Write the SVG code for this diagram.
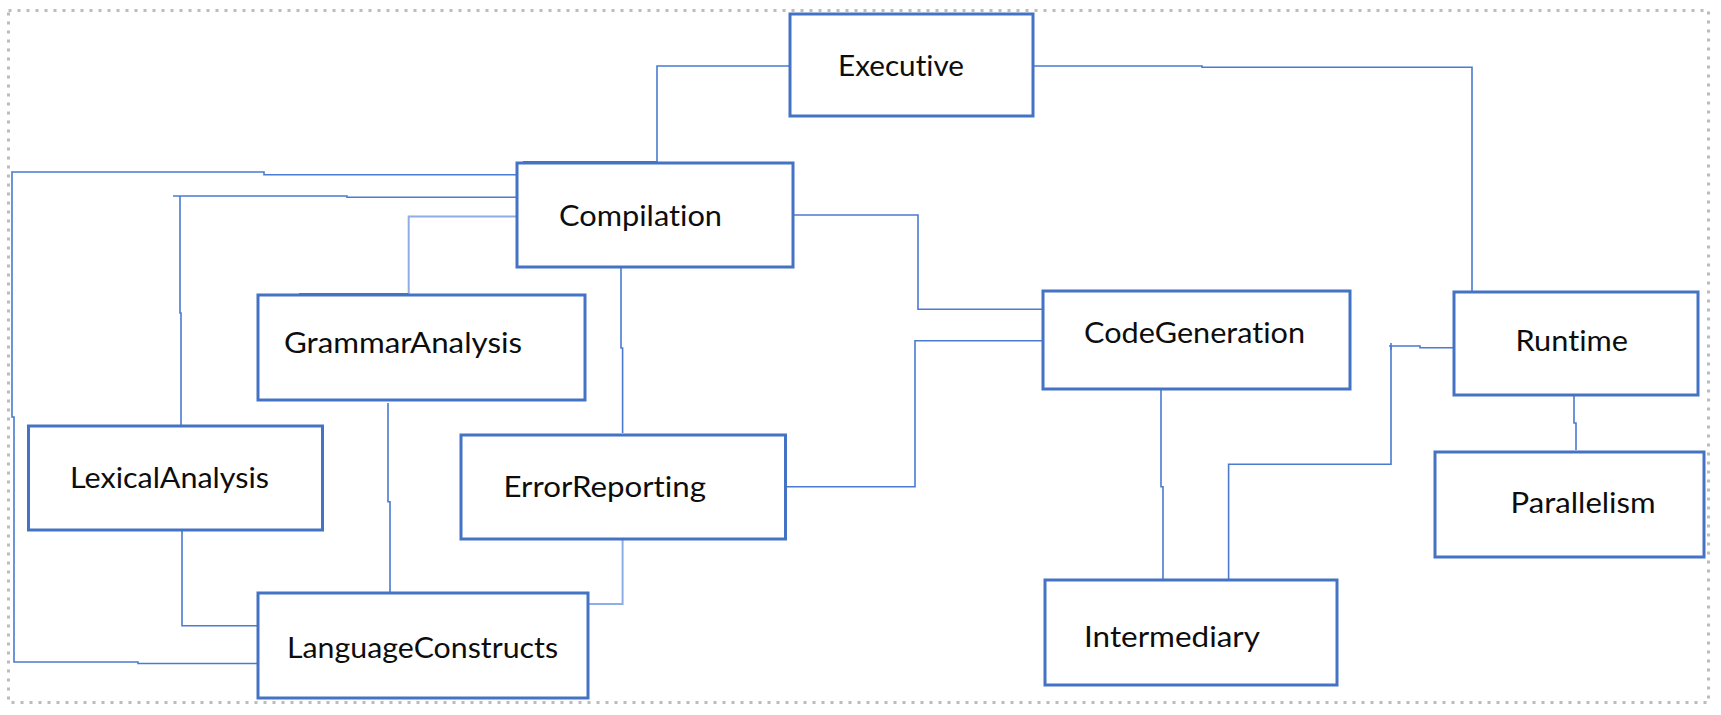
<svg xmlns="http://www.w3.org/2000/svg" width="1721" height="715" viewBox="0 0 1721 715">
  <style>
    .frame { fill: none; stroke: #bcbcbc; stroke-width: 3; stroke-dasharray: 3 6; }
    .box { fill: #ffffff; stroke: #4472C4; stroke-width: 3; }
    .lbl { font-family: Lato, "Open Sans", "Liberation Sans", sans-serif; font-size: 28.5px; fill: #0d0d0d; font-variant-ligatures: none; font-feature-settings: "liga" 0, "clig" 0; }
    .conn { fill: none; stroke: #4a7bd0; stroke-width: 1.6; }
    .connL { fill: none; stroke: #8eaee6; stroke-width: 2; }
    .thick { fill: none; stroke: #4472C4; stroke-width: 4; }
  </style>
  <rect width="1721" height="715" fill="#ffffff"/>
  <rect class="frame" x="8.5" y="10.5" width="1700" height="692"/>

  <g id="connectors">
    <!-- Executive - Compilation -->
    <polyline class="conn" points="790,66 657,66 657,162"/>
    <line class="thick" x1="523" y1="163" x2="657" y2="163"/>
    <!-- Executive - Runtime -->
    <polyline class="conn" points="1033,66 1202,66 1202,67.3 1472,67.3 1472,292"/>
    <!-- Compilation - LanguageConstructs (outer) -->
    <polyline class="conn" points="517,174.7 264,174.7 264,172 12,172 12,417 14,417 14,662 138,662 138,663.5 258,663.5"/>
    <!-- Compilation - LexicalAnalysis -->
    <polyline class="conn" points="521,197.3 347,197.3 347,196 173,196"/>
    <polyline class="conn" points="180,196 180,313 181,313 181,432"/>
    <!-- Compilation - GrammarAnalysis -->
    <polyline class="connL" points="517,216.5 408.7,216.5 408.7,294"/>
    <line class="thick" x1="299" y1="295" x2="408" y2="295"/>
    <!-- Compilation - ErrorReporting -->
    <polyline class="conn" points="621,264 621,348 622.6,348 622.6,433"/>
    <!-- Compilation - CodeGeneration -->
    <polyline class="conn" points="793,215 918,215 918,309.3 1043,309.3"/>
    <!-- ErrorReporting - CodeGeneration -->
    <polyline class="conn" points="786,486.7 915,486.7 915,340.7 1043,340.7"/>
    <!-- GrammarAnalysis - LanguageConstructs -->
    <polyline class="conn" points="388,403 388,501.7 390,501.7 390,600"/>
    <!-- LexicalAnalysis - LanguageConstructs -->
    <polyline class="conn" points="182,530 182,625.7 260,625.7"/>
    <!-- ErrorReporting - LanguageConstructs -->
    <polyline class="connL" points="622.6,529 622.6,604 588,604"/>
    <!-- CodeGeneration - Intermediary -->
    <polyline class="conn" points="1161,389 1161,486.7 1163,486.7 1163,588.7"/>
    <!-- Runtime - Intermediary -->
    <polyline class="conn" points="1454,347.7 1420,347.7 1420,346 1389,346"/>
    <line class="conn" x1="1391" y1="343" x2="1391" y2="350"/>
    <polyline class="conn" points="1391,346 1391,464.3 1228.6,464.3 1228.6,585"/>
    <!-- Runtime - Parallelism -->
    <polyline class="conn" points="1574,395 1574,423 1576,423 1576,450"/>
  </g>

  <g id="node-executive">
    <rect class="box" x="790" y="14" width="243" height="102"/>
    <text class="lbl" x="838" y="76" textLength="126" lengthAdjust="spacingAndGlyphs">Executive</text>
  </g>
  <g id="node-compilation">
    <rect class="box" x="517" y="163" width="276" height="104"/>
    <text class="lbl" x="559" y="225.5" textLength="163" lengthAdjust="spacingAndGlyphs">Compilation</text>
  </g>
  <g id="node-grammaranalysis">
    <rect class="box" x="258" y="295" width="327" height="105"/>
    <text class="lbl" x="284" y="352.7" textLength="238" lengthAdjust="spacingAndGlyphs">GrammarAnalysis</text>
  </g>
  <g id="node-lexicalanalysis">
    <rect class="box" x="28.5" y="426" width="294" height="104"/>
    <text class="lbl" x="70" y="488.3" textLength="199" lengthAdjust="spacingAndGlyphs">LexicalAnalysis</text>
  </g>
  <g id="node-errorreporting">
    <rect class="box" x="461" y="435" width="324.5" height="104"/>
    <text class="lbl" x="503.5" y="496.7" textLength="202.5" lengthAdjust="spacingAndGlyphs">ErrorReporting</text>
  </g>
  <g id="node-languageconstructs">
    <rect class="box" x="258" y="593" width="330" height="105"/>
    <text class="lbl" x="287" y="658" textLength="271" lengthAdjust="spacingAndGlyphs">LanguageConstructs</text>
  </g>
  <g id="node-codegeneration">
    <rect class="box" x="1043" y="291" width="307" height="98"/>
    <text class="lbl" x="1084" y="343.3" textLength="221" lengthAdjust="spacingAndGlyphs">CodeGeneration</text>
  </g>
  <g id="node-runtime">
    <rect class="box" x="1454" y="292" width="244" height="103"/>
    <text class="lbl" x="1515.5" y="350.7" textLength="112.5" lengthAdjust="spacingAndGlyphs">Runtime</text>
  </g>
  <g id="node-parallelism">
    <rect class="box" x="1435" y="452" width="269" height="105"/>
    <text class="lbl" x="1510.6" y="512.7" textLength="145" lengthAdjust="spacingAndGlyphs">Parallelism</text>
  </g>
  <g id="node-intermediary">
    <rect class="box" x="1045" y="580" width="292" height="105"/>
    <text class="lbl" x="1084" y="646.7" textLength="176" lengthAdjust="spacingAndGlyphs">Intermediary</text>
  </g>
</svg>
